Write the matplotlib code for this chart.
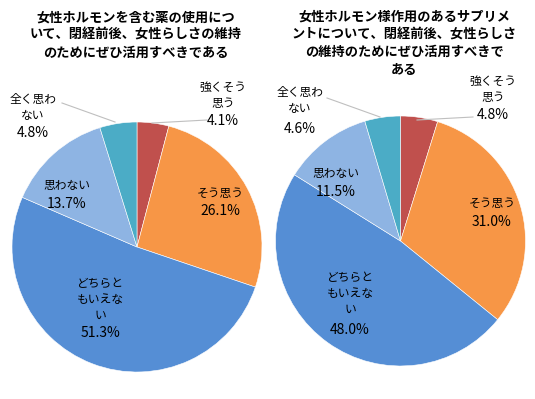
import matplotlib
matplotlib.use("Agg")
import matplotlib.pyplot as plt

plt.rcParams['font.family'] = ['Noto Sans CJK JP', 'DejaVu Sans']

# ---- data ----
categories = ["強くそう思う", "そう思う", "どちらともいえない", "思わない", "全く思わない"]
values_left = [4.1, 26.1, 51.3, 13.7, 4.8]
values_right = [4.8, 31.0, 48.0, 11.5, 4.6]
title_left = "女性ホルモンを含む薬の使用につ\nいて、閉経前後、女性らしさの維持\nのためにぜひ活用すべきである"
title_right = "女性ホルモン様作用のあるサプリメ\nントについて、閉経前後、女性らしさ\nの維持のためにぜひ活用すべきで\nある"
colors = ["#C0504D", "#F79646", "#558ED5", "#8EB4E3", "#4BACC6"]

# ---- layout (pixels, top-left origin) ----
W, H = 535, 399
pies = [
    dict(values=values_left, title=title_left, cx=137, cy=247, r=125, tx=136, ty=35,
         name_xy=[(223, 95), (220, 193), (100, 299.5), (67, 185), (33, 108)],
         pct_y=[121, 211, 333, 204, 133],
         leaders={0: [(207, 120), (152, 123)], 4: [(62, 103), (115, 122)]}),
    dict(values=values_right, title=title_right, cx=400.5, cy=241, r=125, tx=404, ty=43,
         name_xy=[(493, 89.5), (492, 203), (350, 293.5), (336, 173), (300, 100.5)],
         pct_y=[115, 222, 330, 192, 129],
         leaders={0: [(473, 117), (417, 120)], 4: [(327, 98), (380, 117)]}),
]


def wrap4(s):
    return "\n".join(s[i:i + 4] for i in range(0, len(s), 4))


fig = plt.figure(figsize=(W / 100, H / 100), dpi=100)
ax = fig.add_axes([0, 0, 1, 1])

for p in pies:
    ax.pie(p["values"], colors=colors, startangle=90, counterclock=False,
           center=(p["cx"], H - p["cy"]), radius=p["r"],
           wedgeprops=dict(linewidth=0.4, edgecolor="white"))
    ax.text(p["tx"], H - p["ty"], p["title"], ha="center", va="center",
            fontsize=9.5, fontweight="bold", linespacing=1.35, color="black")
    for i, (cat, v) in enumerate(zip(categories, p["values"])):
        nx, ny = p["name_xy"][i]
        ax.text(nx, H - ny, wrap4(cat), ha="center", va="center",
                fontsize=8.5, linespacing=1.3, color="black")
        ax.text(nx, H - p["pct_y"][i], f"{v:.1f}%", ha="center", va="center",
                fontsize=10, color="black")
    for i, pts in p["leaders"].items():
        ax.plot([pts[0][0], pts[1][0]], [H - pts[0][1], H - pts[1][1]],
                color="#BFBFBF", linewidth=0.8)

ax.set_xlim(0, W)
ax.set_ylim(0, H)
ax.set_aspect("equal")
ax.axis("off")

fig.savefig("out.png", dpi=100, facecolor="white")
